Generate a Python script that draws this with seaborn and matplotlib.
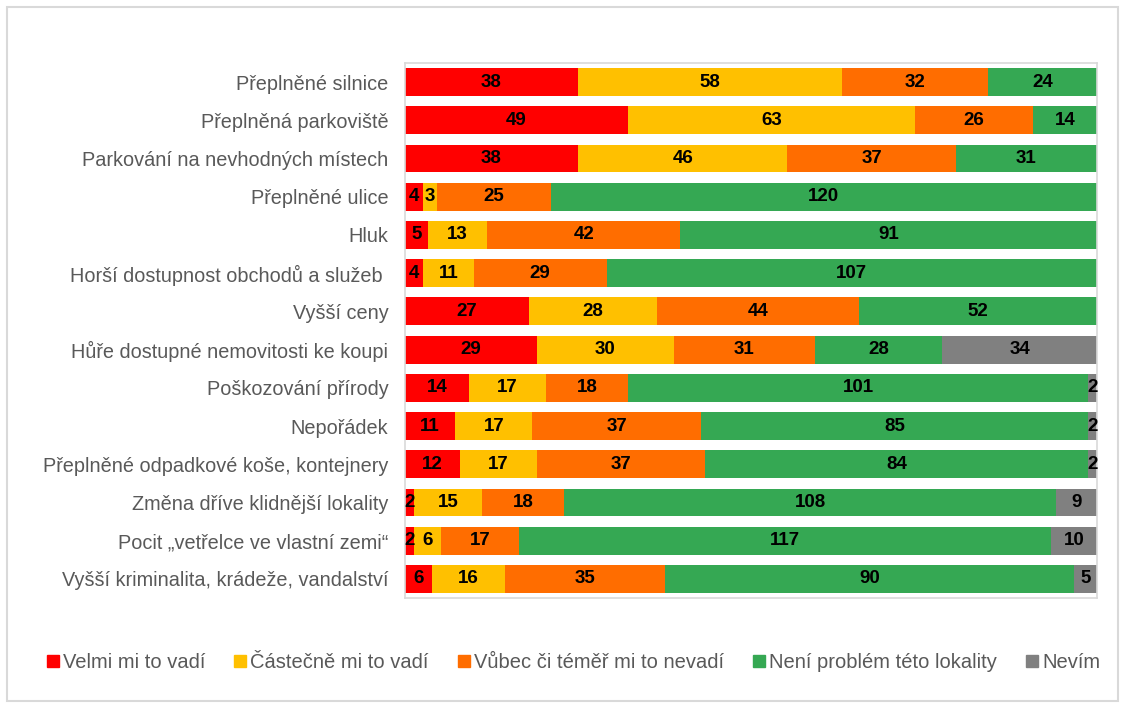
import matplotlib
matplotlib.use("Agg")
import matplotlib.pyplot as plt
import seaborn as sns
import numpy as np
import pandas as pd
from matplotlib.patches import Rectangle
from matplotlib.lines import Line2D

categories = [
    "Přeplněné silnice",
    "Přeplněná parkoviště",
    "Parkování na nevhodných místech",
    "Přeplněné ulice",
    "Hluk",
    "Horší dostupnost obchodů a služeb ",
    "Vyšší ceny",
    "Hůře dostupné nemovitosti ke koupi",
    "Poškozování přírody",
    "Nepořádek",
    "Přeplněné odpadkové koše, kontejnery",
    "Změna dříve klidnější lokality",
    "Pocit „vetřelce ve vlastní zemi“",
    "Vyšší kriminalita, krádeže, vandalství",
]
series_names = ["Velmi mi to vadí", "Částečně mi to vadí", "Vůbec či téměř mi to nevadí",
                "Není problém této lokality", "Nevím"]
velmi = [38, 49, 38, 4, 5, 4, 27, 29, 14, 11, 12, 2, 2, 6]
castecne = [58, 63, 46, 3, 13, 11, 28, 30, 17, 17, 17, 15, 6, 16]
vubec = [32, 26, 37, 25, 42, 29, 44, 31, 18, 37, 37, 18, 17, 35]
neni = [24, 14, 31, 120, 91, 107, 52, 28, 101, 85, 84, 108, 117, 90]
nevim = [0, 0, 0, 0, 0, 0, 0, 34, 2, 2, 2, 9, 10, 5]

colors = ["#FF0000", "#FFC000", "#FF6D00", "#35A853", "#808080"]

vals = np.array([velmi, castecne, vubec, neni, nevim], dtype=float)
totals = vals.sum(axis=0)
pct = vals / totals * 100.0
cum = np.cumsum(pct, axis=0)

fig = plt.figure(figsize=(11.26, 7.09), dpi=100)
sns.set_style("white")
plt.rcParams['font.family'] = ['Liberation Sans', 'DejaVu Sans']

ax = fig.add_axes([405/1126, 1-598/709, (1097-405)/1126, (598-63)/709])

# draw cumulative layers from last to first so earlier ones overlay
for k in range(len(series_names) - 1, -1, -1):
    df = pd.DataFrame({"cat": categories, "w": cum[k]})
    sns.barplot(data=df, x="w", y="cat", orient="h", color=colors[k],
                saturation=1, width=0.73, ax=ax, linewidth=0)

# data labels
for k in range(len(series_names)):
    for i in range(len(categories)):
        v = vals[k, i]
        if v <= 0:
            continue
        start = cum[k, i] - pct[k, i]
        center = start + pct[k, i] / 2
        ax.text(center, i, f"{int(v)}", ha="center", va="center",
                fontsize=13.5, fontweight="bold", color="black")

ax.set_xlim(0, 100)
ax.set_ylim(len(categories) - 0.5, -0.5)
ax.set_xlabel("")
ax.set_ylabel("")
ax.set_xticks([])
ax.tick_params(axis="y", which="major", length=0, pad=12, labelsize=14.3, labelcolor="#595959")
ax.set_yticks(np.arange(-0.5, len(categories), 1), minor=True)
ax.tick_params(axis="y", which="minor", length=6, color="#D9D9D9", width=1)
for s in ax.spines.values():
    s.set_visible(True)
    s.set_color("#D9D9D9")
    s.set_linewidth(1.2)

handles = [Line2D([0], [0], marker="s", linestyle="", markersize=8,
                  markerfacecolor=c, markeredgecolor=c) for c in colors]
fig.legend(handles, series_names, loc="center", bbox_to_anchor=(0.508, 1-663/709),
           ncol=5, frameon=False, fontsize=14.5, handletextpad=0.05, columnspacing=1.3,
           labelcolor="#595959", handlelength=0.9)

fig.patches.append(Rectangle((7/1126, 1-701/709), (1118-7)/1126, (701-7)/709,
                             transform=fig.transFigure, fill=False,
                             edgecolor="#D9D9D9", linewidth=1.5))

fig.savefig("out.png", dpi=100)
